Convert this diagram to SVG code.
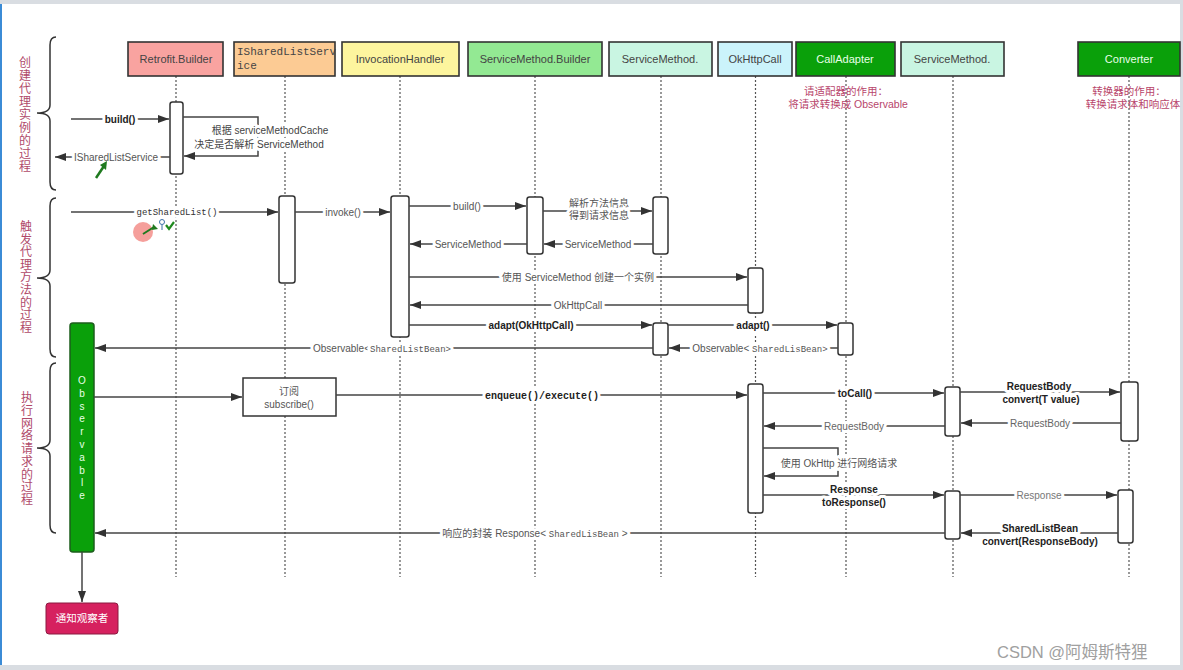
<svg xmlns="http://www.w3.org/2000/svg" width="1183" height="670" viewBox="0 0 1183 670">
<style>
text{font-family:"Liberation Sans","Noto Sans CJK SC",sans-serif;}
.hd{stroke:#333;stroke-width:1.6;}
.ht{font-size:11px;fill:#444;text-anchor:middle;}
.life{stroke:#555;stroke-width:1.2;stroke-dasharray:2 2;fill:none;}
.act{fill:#fff;stroke:#333;stroke-width:1.5;}
.msg{stroke:#444;stroke-width:1.5;fill:none;}
.l{font-size:10px;fill:#555;text-anchor:middle;stroke:#fff;stroke-width:6;paint-order:stroke;stroke-linejoin:round;}
.b{font-weight:bold;fill:#222;}
.mono{font-family:"Liberation Mono","DejaVu Sans Mono",monospace;}
.side{font-size:12px;fill:#b04a6a;text-anchor:middle;}
.note{font-size:10.5px;fill:#b8456b;text-anchor:middle;}
.brace{stroke:#333;stroke-width:1.5;fill:none;}
</style>
<defs>
<marker id="ah" markerUnits="userSpaceOnUse" markerWidth="11" markerHeight="8" refX="11" refY="4" orient="auto">
<path d="M0,0 L11,4 L0,8 z" fill="#333"/>
</marker>
</defs>
<rect width="1183" height="670" fill="#d9dde2"/>
<rect x="2" y="4" width="1178" height="661" fill="#fff"/>
<rect x="0" y="4" width="2" height="661" fill="#3b8bd6"/>

<!-- side braces and labels -->
<g id="phase1">
<path class="brace" d="M56,37 Q50,37 50,45 L50,105 Q50,113 37,113 Q50,113 50,121 L50,182 Q50,190 56,190"/>
<text class="side"><tspan x="25" y="67">创</tspan><tspan x="25" dy="13">建</tspan><tspan x="25" dy="13">代</tspan><tspan x="25" dy="13">理</tspan><tspan x="25" dy="13">实</tspan><tspan x="25" dy="13">例</tspan><tspan x="25" dy="13">的</tspan><tspan x="25" dy="13">过</tspan><tspan x="25" dy="13">程</tspan></text>
</g>
<g id="phase2">
<path class="brace" d="M56,198 Q50,198 50,206 L50,270 Q50,278 37,278 Q50,278 50,286 L50,349 Q50,357 56,357"/>
<text class="side"><tspan x="26" y="231">触</tspan><tspan x="26" dy="12.6">发</tspan><tspan x="26" dy="12.6">代</tspan><tspan x="26" dy="12.6">理</tspan><tspan x="26" dy="12.6">方</tspan><tspan x="26" dy="12.6">法</tspan><tspan x="26" dy="12.6">的</tspan><tspan x="26" dy="12.6">过</tspan><tspan x="26" dy="12.6">程</tspan></text>
</g>
<g id="phase3">
<path class="brace" d="M56,363 Q50,363 50,371 L50,440 Q50,448 37,448 Q50,448 50,456 L50,525 Q50,533 56,533"/>
<text class="side"><tspan x="27" y="402">执</tspan><tspan x="27" dy="12.75">行</tspan><tspan x="27" dy="12.75">网</tspan><tspan x="27" dy="12.75">络</tspan><tspan x="27" dy="12.75">请</tspan><tspan x="27" dy="12.75">求</tspan><tspan x="27" dy="12.75">的</tspan><tspan x="27" dy="12.75">过</tspan><tspan x="27" dy="12.75">程</tspan></text>
</g>

<!-- lifelines -->
<g id="lifelines">
<line class="life" x1="176" y1="76" x2="176" y2="577"/>
<line class="life" x1="285" y1="76" x2="285" y2="577"/>
<line class="life" x1="400" y1="76" x2="400" y2="577"/>
<line class="life" x1="535" y1="76" x2="535" y2="577"/>
<line class="life" x1="661" y1="76" x2="661" y2="577"/>
<line class="life" x1="755.5" y1="76" x2="755.5" y2="577"/>
<line class="life" x1="846" y1="76" x2="846" y2="577"/>
<line class="life" x1="953" y1="76" x2="953" y2="577"/>
<line class="life" x1="1129" y1="76" x2="1129" y2="577"/>
</g>

<!-- headers -->
<g id="retrofitBuilder"><rect class="hd" x="128" y="42" width="95" height="34" fill="#f9a3a0"/><text class="ht" x="176" y="63">Retrofit.Builder</text></g>
<g id="iSharedListService"><rect class="hd" x="234" y="42" width="101" height="34" fill="#fccb94"/><text class="ht mono" x="237" y="55" style="text-anchor:start">ISharedListServ</text><text class="ht mono" x="237" y="69" style="text-anchor:start">ice</text></g>
<g id="invocationHandler"><rect class="hd" x="342" y="42" width="117" height="34" fill="#fdf59e"/><text class="ht" x="400" y="63">InvocationHandler</text></g>
<g id="serviceMethodBuilder"><rect class="hd" x="468" y="42" width="134" height="34" fill="#93e993"/><text class="ht" x="535" y="63">ServiceMethod.Builder</text></g>
<g id="serviceMethod1"><rect class="hd" x="609" y="42" width="103" height="34" fill="#c9f5e2"/><text class="ht" x="660" y="63">ServiceMethod.</text></g>
<g id="okHttpCall"><rect class="hd" x="718" y="42" width="74" height="34" fill="#cbf3fb"/><text class="ht" x="755" y="63">OkHttpCall</text></g>
<g id="callAdapter"><rect class="hd" x="796" y="42" width="99" height="34" fill="#0aa00a"/><text class="ht" x="845" y="63" style="fill:#e8ffe8">CallAdapter</text></g>
<g id="serviceMethod2"><rect class="hd" x="901" y="42" width="103" height="34" fill="#c9f5e2"/><text class="ht" x="952" y="63">ServiceMethod.</text></g>
<g id="converter"><rect class="hd" x="1078" y="42" width="102" height="34" fill="#0aa00a"/><text class="ht" x="1129" y="63" style="fill:#e8ffe8">Converter</text></g>

<!-- notes -->
<g id="notes">
<text class="note" x="846" y="95">请适配器的作用：</text>
<text class="note" x="848" y="108">将请求转换成 Observable</text>
<text class="note" x="1129" y="95">转换器的作用：</text>
<text class="note" x="1133" y="108">转换请求体和响应体</text>
</g>

<!-- activations -->
<g id="activations">
<rect class="act" x="170" y="102" width="13" height="72" rx="2.5"/>
<rect class="act" x="279" y="196" width="16" height="87" rx="2.5"/>
<rect class="act" x="391" y="196" width="18" height="141" rx="2.5"/>
<rect class="act" x="527" y="197" width="16" height="57" rx="2.5"/>
<rect class="act" x="653" y="197" width="15" height="57" rx="2.5"/>
<rect class="act" x="748" y="268" width="15" height="45" rx="2.5"/>
<rect class="act" x="653" y="323" width="15" height="32" rx="2.5"/>
<rect class="act" x="838" y="323" width="15" height="32" rx="2.5"/>
<rect class="act" x="748" y="384" width="15" height="129" rx="2.5"/>
<rect class="act" x="945" y="387" width="15" height="49" rx="2.5"/>
<rect class="act" x="1121" y="382" width="17" height="59" rx="2.5"/>
<rect class="act" x="945" y="491" width="15" height="48" rx="2.5"/>
<rect class="act" x="1118" y="490" width="15" height="53" rx="2.5"/>
</g>

<!-- observable bar -->
<g id="observable">
<rect x="70" y="323" width="24" height="229" rx="3" fill="#0aa00a" stroke="#1d5e1d" stroke-width="1.5"/>
<text style="font-size:10px;fill:#e8ffe8;text-anchor:middle"><tspan x="82" y="384">O</tspan><tspan x="82" dy="12.8">b</tspan><tspan x="82" dy="12.8">s</tspan><tspan x="82" dy="12.8">e</tspan><tspan x="82" dy="12.8">r</tspan><tspan x="82" dy="12.8">v</tspan><tspan x="82" dy="12.8">a</tspan><tspan x="82" dy="12.8">b</tspan><tspan x="82" dy="12.8">l</tspan><tspan x="82" dy="12.8">e</tspan></text>
</g>
<g id="subscribeBox">
<rect x="243" y="378" width="93" height="38" fill="#fff" stroke="#333" stroke-width="1.5"/>
<text x="289" y="395" style="font-size:10px;fill:#555;text-anchor:middle">订阅</text>
<text x="289" y="408" style="font-size:10px;fill:#555;text-anchor:middle">subscribe()</text>
</g>
<g id="notifyObserver">
<rect x="46" y="603" width="72" height="31" rx="3" fill="#d6215f" stroke="#8a1a40" stroke-width="1"/>
<text x="82" y="622" style="font-size:10.5px;fill:#fff;text-anchor:middle">通知观察者</text>
</g>

<!-- connectors -->
<g id="connectors">
<line class="msg" x1="71" y1="119" x2="169" y2="119" marker-end="url(#ah)"/>
<text class="l b" x="120" y="122.5">build()</text>
<path class="msg" d="M183,117 H258 V156 H184" marker-end="url(#ah)"/>
<text class="l" x="270" y="134" style="fill:#444">根据 serviceMethodCache</text>
<text class="l" x="259" y="148" style="fill:#444">决定是否解析 ServiceMethod</text>
<line class="msg" x1="170" y1="157" x2="55" y2="157" marker-end="url(#ah)"/>
<text class="l" x="116" y="160.5">ISharedListService</text>

<line class="msg" x1="71" y1="212" x2="278" y2="212" marker-end="url(#ah)"/>
<text class="l mono" x="177" y="215" style="font-size:9px;fill:#333">getSharedList()</text>
<line class="msg" x1="295" y1="212" x2="390" y2="212" marker-end="url(#ah)"/>
<text class="l" x="343" y="215.5">invoke()</text>
<line class="msg" x1="409" y1="206" x2="526" y2="206" marker-end="url(#ah)"/>
<text class="l" x="467" y="209.5">build()</text>
<line class="msg" x1="543" y1="211" x2="652" y2="211" marker-end="url(#ah)"/>
<text class="l" x="599" y="207">解析方法信息</text>
<text class="l" x="599" y="219">得到请求信息</text>
<line class="msg" x1="653" y1="244" x2="544" y2="244" marker-end="url(#ah)"/>
<text class="l" x="598" y="247.5">ServiceMethod</text>
<line class="msg" x1="527" y1="244" x2="410" y2="244" marker-end="url(#ah)"/>
<text class="l" x="468" y="247.5">ServiceMethod</text>
<line class="msg" x1="409" y1="277" x2="747" y2="277" marker-end="url(#ah)"/>
<text class="l" x="578" y="280.5">使用 ServiceMethod 创建一个实例</text>
<line class="msg" x1="748" y1="305" x2="410" y2="305" marker-end="url(#ah)"/>
<text class="l" x="578" y="308.5">OkHttpCall</text>
<line class="msg" x1="409" y1="325" x2="652" y2="325" marker-end="url(#ah)"/>
<text class="l b" x="531" y="328.5">adapt(OkHttpCall)</text>
<line class="msg" x1="668" y1="325" x2="837" y2="325" marker-end="url(#ah)"/>
<text class="l b" x="753" y="328.5">adapt()</text>
<line class="msg" x1="838" y1="348" x2="669" y2="348" marker-end="url(#ah)"/>
<text class="l" x="760" y="351.5">Observable&lt; <tspan class="mono" style="font-size:9px">SharedLisBean&gt;</tspan></text>
<line class="msg" x1="653" y1="348" x2="95" y2="348" marker-end="url(#ah)"/>
<text class="l" x="382" y="351.5">Observable&lt;<tspan class="mono" style="font-size:9px">SharedListBean&gt;</tspan></text>

<line class="msg" x1="94" y1="397" x2="242" y2="397" marker-end="url(#ah)"/>
<line class="msg" x1="336" y1="395" x2="747" y2="395" marker-end="url(#ah)"/>
<text class="l b mono" x="542" y="398.5">enqueue()/execute()</text>
<line class="msg" x1="763" y1="393" x2="944" y2="393" marker-end="url(#ah)"/>
<text class="l b" x="855" y="396.5">toCall()</text>
<line class="msg" x1="960" y1="392" x2="1120" y2="392" marker-end="url(#ah)"/>
<text class="l b" x="1039" y="389.5">RequestBody</text>
<text class="l b" x="1041" y="402.5">convert(T value)</text>
<line class="msg" x1="1121" y1="423" x2="961" y2="423" marker-end="url(#ah)"/>
<text class="l" x="1040" y="426.5" style="fill:#666">RequestBody</text>
<line class="msg" x1="945" y1="426" x2="764" y2="426" marker-end="url(#ah)"/>
<text class="l" x="854" y="429.5" style="fill:#666">RequestBody</text>
<path class="msg" d="M763,448 H838 V476 H764" marker-end="url(#ah)"/>
<text class="l" x="839" y="466.5">使用 OkHttp 进行网络请求</text>
<line class="msg" x1="763" y1="495" x2="944" y2="495" marker-end="url(#ah)"/>
<text class="l b" x="854" y="492.5">Response</text>
<text class="l b" x="854" y="505.5">toResponse()</text>
<line class="msg" x1="960" y1="495" x2="1117" y2="495" marker-end="url(#ah)"/>
<text class="l" x="1039" y="498.5" style="fill:#777">Response</text>
<line class="msg" x1="1118" y1="533" x2="961" y2="533" marker-end="url(#ah)"/>
<text class="l b" x="1040" y="531.5">SharedListBean</text>
<text class="l b" x="1040" y="544.5">convert(ResponseBody)</text>
<line class="msg" x1="945" y1="533" x2="95" y2="533" marker-end="url(#ah)"/>
<text class="l" x="535" y="536.5">响应的封装 Response&lt;  <tspan class="mono" style="font-size:9px">SharedLisBean</tspan>   &gt;</text>
<line class="msg" x1="82" y1="552" x2="82" y2="602" marker-end="url(#ah)"/>
</g>

<!-- pointer artifacts -->
<g id="marks">
<circle cx="143" cy="232" r="10" fill="#f27f7a" opacity="0.75"/>
<path d="M143,234 L154,227" stroke="#1f7a1f" stroke-width="2"/>
<path d="M153,224 L158,229 L152,230 z" fill="#1f7a1f"/>
<circle cx="162" cy="222" r="2.5" fill="none" stroke="#3a6fa8" stroke-width="1"/>
<line x1="162" y1="225" x2="162" y2="230" stroke="#3a6fa8" stroke-width="1"/>
<path d="M166,225 L169,229 L174,222" stroke="#1f8a1f" stroke-width="2.2" fill="none"/>
<path d="M96,178 L104,166" stroke="#1f7a1f" stroke-width="2.5"/>
<path d="M100,165 L107,161 L106,170 z" fill="#1f7a1f"/>
</g>

<text x="997" y="658" style="font-size:16.5px;fill:#a0a0a0">CSDN @阿姆斯特狸</text>
</svg>
